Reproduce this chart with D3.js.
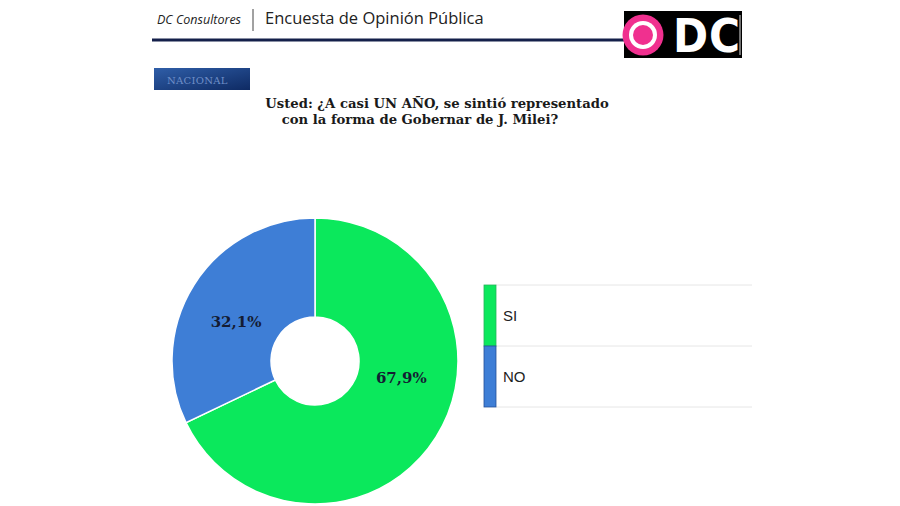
<!DOCTYPE html>
<html><head><meta charset="utf-8">
<script src="https://cdn.jsdelivr.net/npm/d3@7"></script>
<style>body{margin:0;background:#fff;}svg{display:block;}</style>
</head><body>
<svg id="c" width="900" height="506"></svg>
<script>
const categories = ["SI", "NO"];
const values = [67.9, 32.1];
const valueLabels = ["67,9%", "32,1%"];
const colors = ["#0BE85C", "#3E7ED6"];
const strokeColors = ["#27B35A", "#24509A"];
const titleLines = ["Usted: ¿A casi UN AÑO, se sintió representado", "con la forma de Gobernar de J. Milei?"];
// label placement tweak (degrees) relative to slice mid-angle
const labelAngleShift = [-21, -6];

const svg = d3.select("#c");
const defs = svg.append("defs");
const g1 = defs.append("linearGradient").attr("id","nac").attr("x1","0").attr("x2","1").attr("y1","0").attr("y2","1");
g1.append("stop").attr("offset","0").attr("stop-color","#2F5EA8");
g1.append("stop").attr("offset","1").attr("stop-color","#0E2A63");

// Header
svg.append("text").attr("x",157).attr("y",24).attr("font-family","Open Sans, Liberation Sans, sans-serif")
  .attr("font-style","italic").attr("font-size",12.5).attr("fill","#222").text("DC Consultores");
svg.append("line").attr("x1",253).attr("x2",253).attr("y1",9).attr("y2",31).attr("stroke","#444").attr("stroke-width",1);
svg.append("text").attr("x",265).attr("y",24).attr("font-family","Open Sans, Liberation Sans, sans-serif")
  .attr("font-size",16.5).attr("fill","#222").text("Encuesta de Opinión Pública");
svg.append("line").attr("x1",152).attr("x2",625).attr("y1",40).attr("y2",40).attr("stroke","#14204A").attr("stroke-width",3);
// logo
svg.append("rect").attr("x",624).attr("y",11).attr("width",118).attr("height",47).attr("fill","#000");
svg.append("line").attr("x1",740).attr("x2",740).attr("y1",15).attr("y2",55).attr("stroke","#ddd").attr("stroke-width",1);
svg.append("circle").attr("cx",643).attr("cy",35).attr("r",20.5).attr("fill","#F0308F");
svg.append("circle").attr("cx",643).attr("cy",35).attr("r",14).attr("fill","#fff");
svg.append("circle").attr("cx",643).attr("cy",35).attr("r",10).attr("fill","#F0308F");
svg.append("text").attr("x",707).attr("y",52).attr("text-anchor","middle")
  .attr("font-family","Liberation Sans Narrow, DejaVu Sans Condensed, Arial Narrow, sans-serif")
  .attr("font-weight","bold").attr("font-size",47).attr("fill","#fff").attr("letter-spacing",1).text("DC");

// NACIONAL
svg.append("rect").attr("x",154).attr("y",68).attr("width",96).attr("height",22).attr("fill","url(#nac)");
svg.append("text").attr("x",167).attr("y",84).attr("font-family","DejaVu Serif, serif").attr("font-size",10)
  .attr("fill","#6F8FC8").attr("letter-spacing",0.3).text("NACIONAL");

// Title
svg.append("text").attr("x",437).attr("y",108).attr("text-anchor","middle").attr("font-family","DejaVu Serif, serif")
  .attr("font-weight","bold").attr("font-size",13.2).attr("fill","#1a1a1a").text(titleLines[0]);
svg.append("text").attr("x",420).attr("y",124).attr("text-anchor","middle").attr("font-family","DejaVu Serif, serif")
  .attr("font-weight","bold").attr("font-size",13.2).attr("fill","#1a1a1a").text(titleLines[1]);

// Donut
const cx = 315, cy = 361, R = 143, r = 44, rl = 88;
const data = categories.map((c,i)=>({cat:c, v:values[i], label:valueLabels[i], color:colors[i], stroke:strokeColors[i], shift:labelAngleShift[i]}));
const pie = d3.pie().value(d=>d.v).sort(null);
const arc = d3.arc().innerRadius(r).outerRadius(R);
const gp = svg.append("g").attr("transform",`translate(${cx},${cy})`);
const arcs = pie(data);
gp.selectAll("path").data(arcs).join("path").attr("d",arc).attr("fill",d=>d.data.color)
  .attr("stroke","#fff").attr("stroke-width",1.5);
gp.selectAll("text").data(arcs).join("text")
  .attr("transform",d=>{
    const a=(d.startAngle+d.endAngle)/2 + d.data.shift*Math.PI/180;
    return `translate(${rl*Math.sin(a)},${-rl*Math.cos(a)})`;})
  .attr("text-anchor","middle").attr("dy","0.35em")
  .attr("font-family","DejaVu Serif, serif").attr("font-weight","bold").attr("font-size",15)
  .attr("fill","#141c33").text(d=>d.data.label);

// Legend
const ly = d3.scaleBand().domain(categories).range([285,407]);
const lg = svg.append("g");
[285,346,407].forEach(y=>lg.append("line").attr("x1",496).attr("x2",752).attr("y1",y).attr("y2",y).attr("stroke","#E6E6E6").attr("stroke-width",1));
lg.selectAll("rect").data(data).join("rect").attr("x",484).attr("y",d=>ly(d.cat)).attr("width",12)
  .attr("height",ly.bandwidth()).attr("fill",d=>d.color).attr("stroke",d=>d.stroke).attr("stroke-width",0.8);
lg.selectAll("text.l").data(data).join("text").attr("class","l").attr("x",503)
  .attr("y",d=>ly(d.cat)+ly.bandwidth()/2+5).attr("font-family","Liberation Sans, Arial, sans-serif")
  .attr("font-size",15).attr("fill","#222").text(d=>d.cat);
</script>
</body></html>
